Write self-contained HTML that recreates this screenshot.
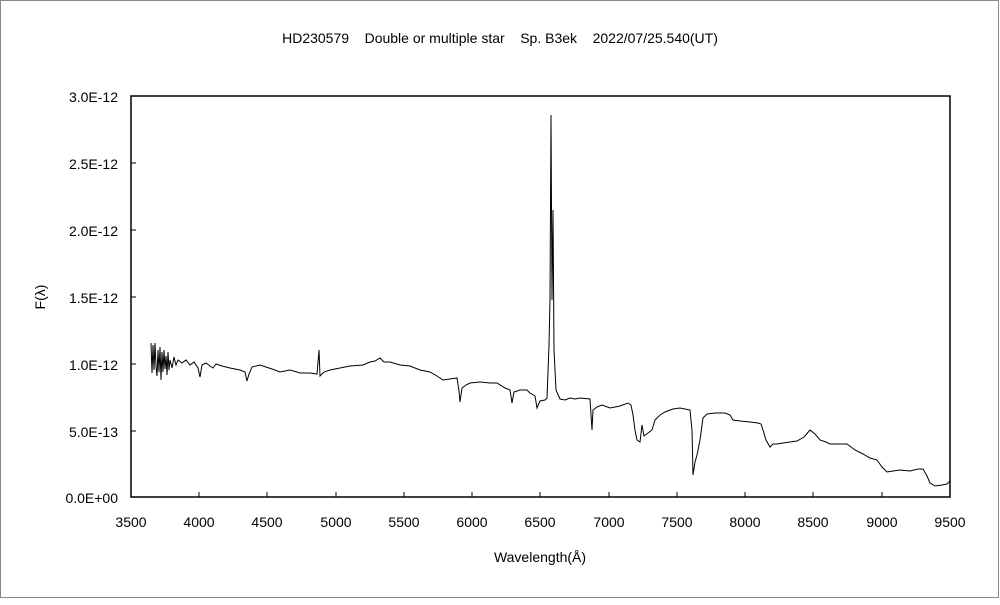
<!DOCTYPE html>
<html><head><meta charset="utf-8"><style>
body{margin:0;background:#fff}
svg text{font-family:"Liberation Sans","Noto Sans CJK JP",sans-serif;font-size:14px;fill:#000}
</style></head><body>
<svg width="1000" height="600" viewBox="0 0 1000 600" xmlns="http://www.w3.org/2000/svg">
<rect x="0.5" y="0.5" width="998" height="597" fill="#fff" stroke="#888"/>
<text x="500" y="43" text-anchor="middle" xml:space="preserve">HD230579    Double or multiple star    Sp. B3ek    2022/07/25.540(UT)</text>
<rect x="131" y="96" width="819" height="401" fill="none" stroke="#000" stroke-width="1.5"/>
<g stroke="#000" stroke-width="1">
<path d="M131 96h5M131 163h5M131 230h5M131 297h5M131 364h5M131 431h5M131 497h5"/>
<path d="M131 497v-5M199 497v-5M267 497v-5M336 497v-5M404 497v-5M472 497v-5M540 497v-5M609 497v-5M677 497v-5M745 497v-5M813 497v-5M882 497v-5M950 497v-5"/>
</g>
<g text-anchor="end">
<text x="118" y="102">3.0E-12</text><text x="118" y="169">2.5E-12</text><text x="118" y="236">2.0E-12</text>
<text x="118" y="303">1.5E-12</text><text x="118" y="370">1.0E-12</text><text x="118" y="437">5.0E-13</text><text x="118" y="503">0.0E+00</text>
</g>
<g text-anchor="middle">
<text x="131" y="527">3500</text><text x="199" y="527">4000</text><text x="267" y="527">4500</text><text x="336" y="527">5000</text>
<text x="404" y="527">5500</text><text x="472" y="527">6000</text><text x="540" y="527">6500</text><text x="609" y="527">7000</text>
<text x="677" y="527">7500</text><text x="745" y="527">8000</text><text x="813" y="527">8500</text><text x="882" y="527">9000</text>
<text x="950" y="527">9500</text>
<text x="540" y="562">Wavelength(Å)</text>
</g>
<text x="45" y="297" text-anchor="middle" transform="rotate(-90 45 297)">F(λ)</text>
<polyline fill="none" stroke="#000" stroke-width="1" points="
151,343 152,373 153,345 154,370 155,343 156,366 157,376 158,350 159,372 160,347 161,380 162,352 163,372 164,350 165,369 166,356 167,375 168,352 169,370 170,360 172,368 174,357 176,365 178,360 182,363 186,360 190,365 194,362 198,368 200,377 202,365 206,363 210,366 213,368 216,364 222,366 230,368 240,370 245,372 247,381 249,374 252,367 260,365 266,367 272,369 280,372 290,370 297,372 300,373 310,373 317,374 319,350 320,376 324,372 330,370 340,368 350,366 363,365 370,362 375,361 380,358 384,362 390,362 400,365 410,366 420,370 430,372 437,376 443,380 450,379 457,378 459,391 460,402 462,388 466,385 470,383 480,382 490,383 497,383 505,388 510,390 512,403 514,392 520,390 527,390 530,393 535,396 537,408 540,401 545,400 547,398 549,345 550,300 551,115 552,300 553,210 554,350 556,390 560,399 565,400 570,398 575,399 580,398 590,399 592,430 593,410 597,407 602,405 610,408 620,406 628,403 631,405 633,415 635,430 637,440 640,442 642,425 644,436 648,433 652,430 655,420 660,415 665,412 673,409 680,408 690,410 692,430 693,475 695,462 697,455 700,440 703,418 707,414 715,413 725,413 730,415 733,420 740,421 750,422 758,423 761,424 763,430 766,440 770,447 773,444 777,444 783,443 790,442 797,441 804,437 810,430 815,434 820,440 826,442 830,444 840,444 847,444 855,450 863,454 870,458 877,460 882,467 887,472 893,471 900,470 910,471 918,469 923,469 927,476 930,483 935,486 942,485 947,484 950,481"/>
</svg>
</body></html>
